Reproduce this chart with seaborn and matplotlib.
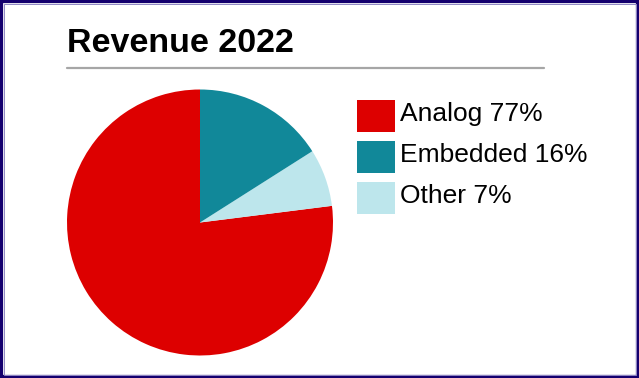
import seaborn as sns
import matplotlib.pyplot as plt
from matplotlib.patches import Patch, Rectangle
from matplotlib.transforms import ScaledTranslation

sns.set_theme(style="white")
plt.rcParams['font.family'] = ['Liberation Sans', 'DejaVu Sans']

# data
segments = ['Analog', 'Other', 'Embedded']
shares = [77, 7, 16]
colors = ['#dd0000', '#bde6ec', '#118899']
legend_order = ['Analog', 'Embedded', 'Other']

W, H = 639, 378
fig = plt.figure(figsize=(W / 100, H / 100), dpi=100)

# pie axes (pixel box -> figure fraction)
ax = fig.add_axes([67 / W, (H - 356) / H, 266 / W, 267 / H])
ax.pie(shares, colors=colors, startangle=90, counterclock=True,
       wedgeprops=dict(linewidth=0))
ax.set_xlim(-1, 1)
ax.set_ylim(-1, 1)
ax.set_aspect('equal')

# title + rule
fig.text(67 / W, 1 - 52 / H, 'Revenue 2022', fontsize=24.5, fontweight='bold',
         va='baseline', ha='left', color='black')
fig.add_artist(plt.Line2D([67 / W, 544 / W], [1 - 67.5 / H, 1 - 67.5 / H],
                          color='#a6a6a6', linewidth=1.6))

# legend
col = dict(zip(segments, colors))
handles = [Patch(facecolor=col[s], edgecolor='none') for s in legend_order]
labels = [f'{s} {shares[segments.index(s)]}%' for s in legend_order]
leg = fig.legend(handles, labels, loc='upper left',
                 bbox_to_anchor=(357 / W, 1 - 100 / H), frameon=False,
                 fontsize=19, handlelength=1.44, handleheight=1.49,
                 handletextpad=0.2, labelspacing=0.34, borderpad=0,
                 borderaxespad=0)
nudge = ScaledTranslation(0, 3.5 / 100, fig.dpi_scale_trans)
for t in leg.get_texts():
    t.set_color('black')
    t.set_transform(t.get_transform() + nudge)

# border
fig.add_artist(Rectangle((0, 0), 1, 1, transform=fig.transFigure, fill=False,
                         edgecolor='#14006e', linewidth=4.5))
fig.add_artist(Rectangle((3.5 / W, 3.5 / H), 1 - 7 / W, 1 - 7 / H,
                         transform=fig.transFigure, fill=False,
                         edgecolor='#8f88c4', linewidth=0.7))

fig.savefig('out.png', dpi=100)
